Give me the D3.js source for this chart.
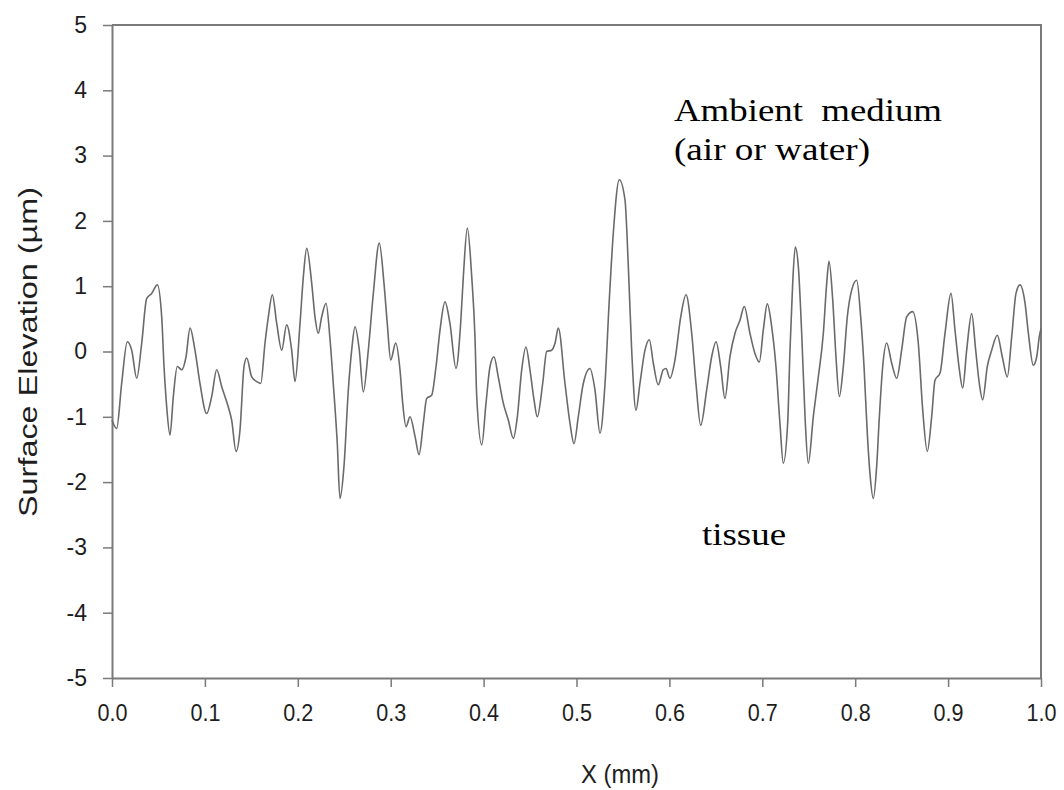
<!DOCTYPE html>
<html>
<head>
<meta charset="utf-8">
<script src="https://cdn.jsdelivr.net/npm/d3@7"></script>
<style>
  html, body { margin: 0; padding: 0; background: #fff; }
  svg { display: block; }
</style>
</head>
<body>
<svg id="chart" width="1064" height="790"></svg>
<script>
// ---- data ----
const xPos = [0,0.005,0.0104,0.0165,0.0212,0.0266,0.032,0.0373,0.0427,0.0488,0.0535,0.056,0.0589,0.0624,0.066,0.0703,0.075,0.0797,0.084,0.0893,0.0947,0.1019,0.1073,0.1127,0.1181,0.1252,0.1288,0.1335,0.1378,0.1421,0.145,0.1504,0.1558,0.1601,0.1647,0.1683,0.1726,0.1773,0.1827,0.188,0.1934,0.197,0.2024,0.206,0.2096,0.215,0.2185,0.2221,0.2257,0.2304,0.2347,0.2382,0.2425,
0.2454,0.2497,0.2544,0.258,0.2616,0.2662,0.2705,0.2759,0.2813,0.2877,0.2928,0.2963,0.3,0.3054,0.31,0.3129,0.3165,0.3208,0.3262,0.3305,0.3351,0.3387,0.3441,0.3488,0.3531,0.3584,0.3638,0.3703,0.3753,0.3782,0.3825,0.3872,0.3907,0.3926,0.398,0.4026,0.4069,0.4112,0.4158,0.4212,0.4266,0.432,0.4363,0.441,0.4456,0.4499,0.4543,0.4578,0.4636,0.4679,0.4733,0.4769,0.4804,
0.4876,0.493,0.4973,0.5019,0.5073,0.5145,0.5199,0.5253,0.5307,0.5353,0.5396,0.5461,0.5522,0.5558,0.5594,0.564,0.5683,0.5737,0.5784,0.5827,0.588,0.5934,0.5963,0.6006,0.606,0.6122,0.6179,0.624,0.6286,0.6337,0.6401,0.6455,0.6502,0.6552,0.6598,0.6652,0.6706,0.676,0.6806,0.6867,0.6921,0.6968,0.7011,0.7054,0.7101,0.7147,0.719,0.7226,0.7273,0.7298,0.7327,0.7355,
0.7388,0.7424,0.746,0.7495,0.7549,0.7603,0.7657,0.7693,0.7718,0.7758,0.7793,0.7829,0.7872,0.7915,0.7962,0.8016,0.8059,0.8095,0.813,0.8159,0.8195,0.8231,0.826,0.8296,0.8339,0.8393,0.8447,0.85,0.8554,0.8619,0.8679,0.8727,0.8776,0.8823,0.8859,0.8913,0.8967,0.9031,0.9074,0.9117,0.9157,0.92,0.9254,0.9297,0.9336,0.9372,0.9422,0.9469,0.953,0.9583,0.9637,0.9685,0.9731,0.9774,0.9828,0.9864,0.9917,0.9954,0.9982,1.0];

const elevation = [-1.05,-1.18,-0.49,0.15,0.02,-0.41,0.13,0.81,0.89,1.02,0.53,-0.23,-0.85,-1.28,-0.69,-0.23,-0.28,-0.08,0.36,0.02,-0.49,-0.95,-0.69,-0.28,-0.54,-0.85,-1.05,-1.53,-1.20,-0.23,-0.10,-0.39,-0.46,-0.49,0.13,0.53,0.87,0.43,0.02,0.41,0.02,-0.46,0.43,1.15,1.58,1.04,0.53,0.28,0.53,0.74,0.18,-0.49,-1.41,
-2.25,-1.76,-0.59,0.02,0.38,0.02,-0.62,0.02,0.89,1.66,1.04,0.43,-0.13,0.13,-0.28,-0.79,-1.15,-1.00,-1.30,-1.58,-1.10,-0.72,-0.67,-0.23,0.33,0.76,0.43,-0.26,0.43,1.15,1.89,1.15,0.23,-0.69,-1.43,-0.79,-0.23,-0.08,-0.39,-0.79,-1.05,-1.33,-1.00,-0.28,0.07,-0.28,-0.74,-1.00,-0.49,0.00,0.02,0.13,0.36,
-0.49,-1.10,-1.41,-1.00,-0.49,-0.26,-0.59,-1.25,-0.49,0.79,1.81,2.63,2.32,1.30,0.02,-0.90,-0.49,0.02,0.18,-0.18,-0.51,-0.28,-0.26,-0.41,-0.13,0.53,0.87,0.28,-0.49,-1.13,-0.59,-0.08,0.15,-0.23,-0.72,-0.08,0.28,0.48,0.69,0.28,-0.03,-0.16,0.33,0.73,0.38,-0.23,-1.10,-1.71,-1.10,0.02,1.04,1.60,
1.30,0.28,-1.00,-1.71,-1.00,-0.39,0.28,1.04,1.38,0.79,-0.08,-0.69,-0.23,0.53,0.94,1.09,0.53,-0.23,-1.25,-1.87,-2.25,-1.76,-1.00,-0.23,0.13,-0.18,-0.41,0.02,0.53,0.61,0.13,-0.90,-1.53,-1.00,-0.44,-0.33,0.28,0.89,0.33,-0.23,-0.56,0.02,0.58,0.02,-0.49,-0.74,-0.23,0.02,0.25,-0.08,-0.39,0.23,0.89,1.02,0.74,0.28,-0.21,-0.08,0.23,0.35];

const xTicks = [0,0.1,0.2,0.3,0.4,0.5,0.6,0.7,0.8,0.9,1.0];
const xTickLabels = ["0.0","0.1","0.2","0.3","0.4","0.5","0.6","0.7","0.8","0.9","1.0"];
const yTicks = [-5,-4,-3,-2,-1,0,1,2,3,4,5];
const yTickLabels = ["-5","-4","-3","-2","-1","0","1","2","3","4","5"];
const xTitle = "X (mm)";
const yTitle = "Surface Elevation (\u00b5m)";
const noteTop = ["Ambient  medium", "(air or water)"];
const noteBottom = "tissue";

// ---- layout ----
const W = 1064, H = 790;
const m = {left: 112, right: 23, top: 25, bottom: 112};
const svg = d3.select("#chart");
const x = d3.scaleLinear().domain([0, 1]).range([m.left, W - m.right]);
const y = d3.scaleLinear().domain([-5, 5]).range([H - m.bottom, m.top]);

const axisColor = "#7a7a7a";
const tickFont = "'Liberation Sans', Arial, sans-serif";

// frame (top and right borders)
svg.append("path")
  .attr("d", `M${m.left},${m.top}H${W - m.right}V${H - m.bottom}`)
  .attr("fill", "none").attr("stroke", axisColor).attr("stroke-width", 2);

// x axis
const gx = svg.append("g").attr("transform", `translate(0,${H - m.bottom})`)
  .call(d3.axisBottom(x).tickValues(xTicks).tickFormat((d, i) => xTickLabels[i])
    .tickSize(9).tickSizeOuter(0).tickPadding(18));
// y axis
const gy = svg.append("g").attr("transform", `translate(${m.left},0)`)
  .call(d3.axisLeft(y).tickValues(yTicks).tickFormat((d, i) => yTickLabels[i])
    .tickSize(9).tickSizeOuter(0).tickPadding(16));

[gx, gy].forEach(g => {
  g.select(".domain").attr("stroke", axisColor).attr("stroke-width", 2);
  g.selectAll(".tick line").attr("stroke", axisColor).attr("stroke-width", 1.5);
  g.selectAll(".tick text").attr("fill", "#1e1e1e").style("font-family", tickFont).style("font-size", "23px");
});
gx.selectAll(".tick text").attr("textLength", 30).attr("lengthAdjust", "spacingAndGlyphs");

// line
const line = d3.line()
  .x((d, i) => x(xPos[i]))
  .y(d => y(d))
  .curve(d3.curveMonotoneX);
svg.append("path")
  .datum(elevation)
  .attr("d", line)
  .attr("fill", "none")
  .attr("stroke", "#6a6a6a")
  .attr("stroke-width", 1.6);

// axis titles
svg.append("text")
  .attr("x", 620).attr("y", 783)
  .attr("text-anchor", "middle")
  .style("font-family", tickFont).style("font-size", "26px").attr("fill", "#1e1e1e")
  .attr("textLength", 78).attr("lengthAdjust", "spacingAndGlyphs")
  .text(xTitle);
svg.append("text")
  .attr("transform", `translate(37,352) rotate(-90)`)
  .attr("text-anchor", "middle")
  .style("font-family", tickFont).style("font-size", "25px").attr("fill", "#1e1e1e")
  .attr("textLength", 330).attr("lengthAdjust", "spacingAndGlyphs")
  .text(yTitle);

// annotations
const serif = "'Liberation Serif', 'Times New Roman', serif";
svg.append("text").attr("x", 674).attr("y", 121)
  .style("font-family", serif).style("font-size", "32px").style("white-space", "pre")
  .attr("textLength", 268).attr("lengthAdjust", "spacingAndGlyphs")
  .text(noteTop[0]);
svg.append("text").attr("x", 674).attr("y", 160)
  .style("font-family", serif).style("font-size", "32px")
  .attr("textLength", 196).attr("lengthAdjust", "spacingAndGlyphs")
  .text(noteTop[1]);
svg.append("text").attr("x", 702).attr("y", 545)
  .style("font-family", serif).style("font-size", "32px")
  .attr("textLength", 84).attr("lengthAdjust", "spacingAndGlyphs")
  .text(noteBottom);
</script>
</body>
</html>
